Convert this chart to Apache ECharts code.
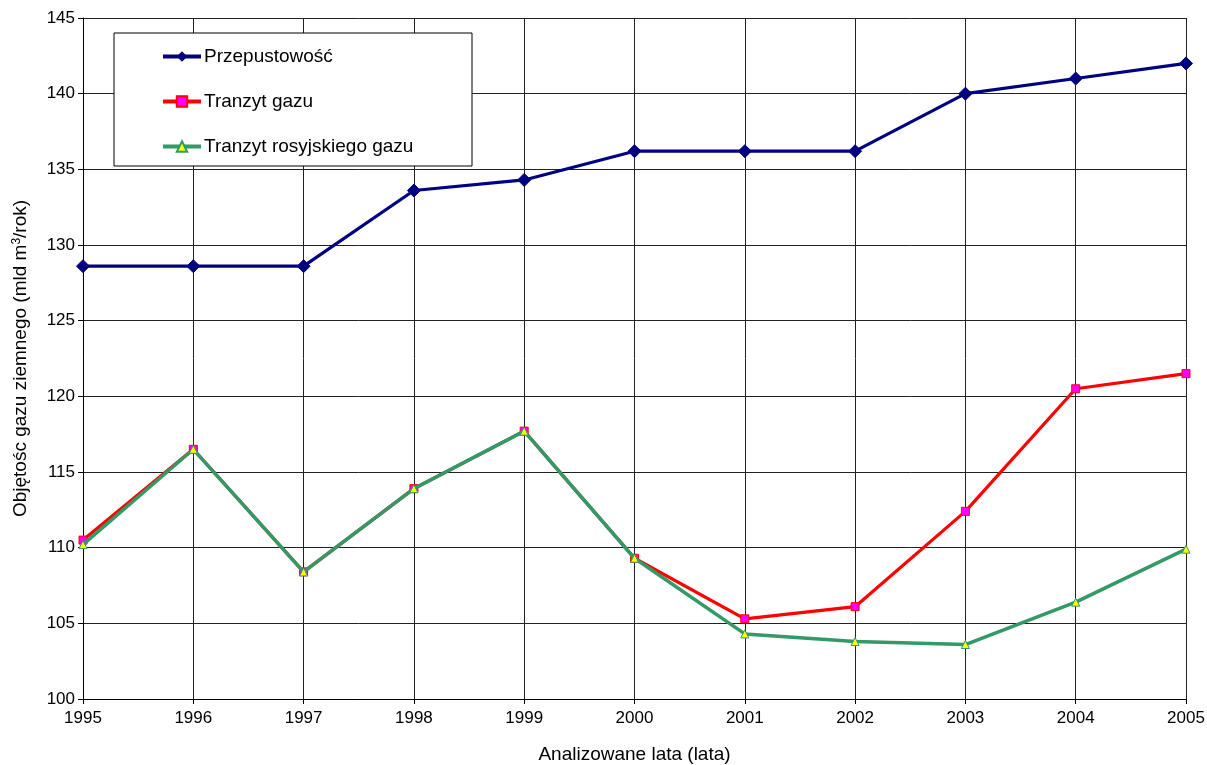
<!DOCTYPE html>
<html>
<head>
<meta charset="utf-8">
<script src="https://cdn.jsdelivr.net/npm/echarts@6/dist/echarts.min.js"></script>
<style>
  html, body { margin: 0; padding: 0; background: #fff; }
  #chart { width: 1207px; height: 765px; }
</style>
</head>
<body>
<div id="chart"></div>
<script>
// Years on the horizontal axis
const years = ['1995', '1996', '1997', '1998', '1999', '2000', '2001', '2002', '2003', '2004', '2005'];

// Pipeline capacity (bn m3 / year)
const przepustowosc = [128.6, 128.6, 128.6, 133.6, 134.3, 136.2, 136.2, 136.2, 140.0, 141.0, 142.0];
// Total gas transit
const tranzytGazu = [110.5, 116.5, 108.4, 113.9, 117.7, 109.3, 105.3, 106.1, 112.4, 120.5, 121.5];
// Russian gas transit
const tranzytRosyjski = [110.2, 116.5, 108.4, 113.9, 117.7, 109.3, 104.3, 103.8, 103.6, 106.4, 109.9];

const seriesNames = ['Przepustowość', 'Tranzyt gazu', 'Tranzyt rosyjskiego gazu'];

const font = 'Liberation Sans, Arial, sans-serif';
const chart = echarts.init(document.getElementById('chart'), null, { renderer: 'canvas' });

chart.setOption({
  backgroundColor: '#ffffff',
  animation: false,
  textStyle: { fontFamily: font },
  grid: { left: 83, right: 21, top: 18, bottom: 66, containLabel: false, outerBoundsMode: 'none' },
  graphic: [{
    type: 'rect',
    z: 10,
    shape: { x: 114, y: 33, width: 358, height: 133 },
    style: { fill: '#ffffff', stroke: '#000000', lineWidth: 1 }
  }],
  legend: {
    z: 20,
    orient: 'vertical',
    left: 156,
    top: 42,
    itemGap: 26,
    itemWidth: 38,
    itemHeight: 13,
    data: [
      { name: seriesNames[0], lineStyle: { width: 4 } },
      { name: seriesNames[1], lineStyle: { width: 4 } },
      { name: seriesNames[2], lineStyle: { width: 4 } }
    ],
    textStyle: { fontFamily: font, fontSize: 19, color: '#000', padding: [0, 0, 0, -2] }
  },
  xAxis: {
    type: 'category',
    data: years,
    boundaryGap: false,
    name: 'Analizowane lata (lata)',
    nameLocation: 'middle',
    nameGap: 46,
    nameTextStyle: { fontFamily: font, fontSize: 19, color: '#000' },
    axisLine: { lineStyle: { color: '#000', width: 1 } },
    axisTick: { show: true, length: 5, lineStyle: { color: '#000' } },
    axisLabel: { fontFamily: font, fontSize: 17, color: '#000', margin: 11 },
    splitLine: { show: true, lineStyle: { color: '#222', width: 1 } }
  },
  yAxis: {
    type: 'value',
    min: 100,
    max: 145,
    interval: 5,
    name: 'Objętośc gazu ziemnego (mld m{sup|3}/rok)',
    nameLocation: 'middle',
    nameGap: 52,
    nameRotate: 90,
    nameTextStyle: {
      fontFamily: font, fontSize: 19, color: '#000', lineHeight: 20,
      rich: {
        sup: { fontFamily: font, fontSize: 12, color: '#000', verticalAlign: 'top', lineHeight: 20 }
      }
    },
    axisLine: { show: true, lineStyle: { color: '#000', width: 1 } },
    axisTick: { show: true, length: 5, lineStyle: { color: '#000' } },
    axisLabel: { fontFamily: font, fontSize: 17, color: '#000', margin: 8 },
    splitLine: { show: true, lineStyle: { color: '#222', width: 1 } }
  },
  series: [
    {
      name: seriesNames[0],
      type: 'line',
      data: przepustowosc,
      symbol: 'diamond',
      symbolSize: 13,
      lineStyle: { color: '#000080', width: 3.2 },
      itemStyle: { color: '#000080', borderColor: '#000080' },
      z: 3
    },
    {
      name: seriesNames[1],
      type: 'line',
      data: tranzytGazu,
      symbol: 'rect',
      symbolSize: 8,
      lineStyle: { color: '#ff0000', width: 3.2 },
      itemStyle: { color: '#ff00ff', borderColor: '#ff0000', borderWidth: 1 },
      z: 4
    },
    {
      name: seriesNames[2],
      type: 'line',
      data: tranzytRosyjski,
      symbol: 'triangle',
      symbolSize: 8,
      lineStyle: { color: '#339966', width: 3.5 },
      itemStyle: { color: '#ffff00', borderColor: '#339966', borderWidth: 1 },
      z: 5
    }
  ]
});
</script>
</body>
</html>
